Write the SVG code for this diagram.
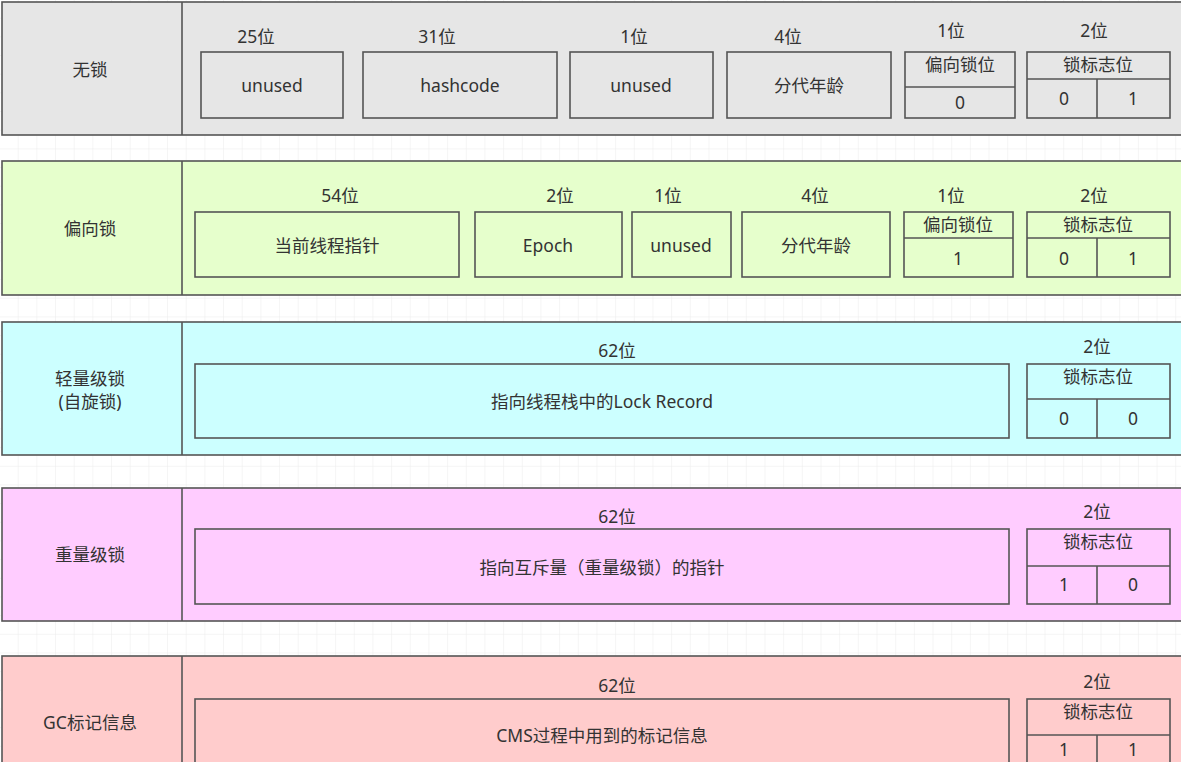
<svg xmlns="http://www.w3.org/2000/svg" width="1181" height="762" viewBox="0 0 1181 762">
<defs>
<pattern id="grid" width="18.67" height="18.67" patternUnits="userSpaceOnUse">
<path d="M18.67 0 V18.67 M0 18.67 H18.67" fill="none" stroke="#ececec" stroke-width="1"/>
</pattern>
<style>
.b{fill:none;stroke:#555;stroke-width:1.6}
.row{stroke:#555;stroke-width:1.6}
text{font-family:"Noto Sans","Noto Sans CJK SC",sans-serif;font-size:17.5px;fill:#333;text-anchor:middle;dominant-baseline:central}
</style>
</defs>
<rect width="1181" height="762" fill="#fff"/>
<rect width="1181" height="762" fill="url(#grid)"/>

<g id="row-nolock">
<rect class="row" x="2" y="2" width="1195" height="133" fill="#e6e6e6"/>
<line class="b" x1="182" y1="2" x2="182" y2="135"/>
<text x="90" y="69">无锁</text>
<text x="256" y="36">25位</text>
<text x="437" y="36">31位</text>
<text x="634" y="36">1位</text>
<text x="788" y="36">4位</text>
<text x="951" y="30">1位</text>
<text x="1094" y="30">2位</text>
<rect class="b" x="201" y="52" width="142" height="66"/>
<text x="272" y="85">unused</text>
<rect class="b" x="363" y="52" width="194" height="66"/>
<text x="460" y="85">hashcode</text>
<rect class="b" x="570" y="52" width="143" height="66"/>
<text x="641" y="85">unused</text>
<rect class="b" x="727" y="52" width="164" height="66"/>
<text x="809" y="85">分代年龄</text>
<rect class="b" x="905" y="52" width="110" height="66"/>
<line class="b" x1="905" y1="87" x2="1015" y2="87"/>
<text x="960" y="64">偏向锁位</text>
<text x="960" y="102">0</text>
<rect class="b" x="1027" y="52" width="143" height="66"/>
<line class="b" x1="1027" y1="79" x2="1170" y2="79"/>
<line class="b" x1="1097" y1="79" x2="1097" y2="118"/>
<text x="1098" y="64">锁标志位</text>
<text x="1064" y="98">0</text>
<text x="1133" y="98">1</text>
</g>

<g id="row-biased">
<rect class="row" x="2" y="161" width="1195" height="134" fill="#e6ffcc"/>
<line class="b" x1="182" y1="161" x2="182" y2="295"/>
<text x="90" y="228">偏向锁</text>
<text x="340" y="195">54位</text>
<text x="560" y="195">2位</text>
<text x="668" y="195">1位</text>
<text x="815" y="195">4位</text>
<text x="951" y="195">1位</text>
<text x="1094" y="195">2位</text>
<rect class="b" x="195" y="212" width="264" height="65"/>
<text x="327" y="245">当前线程指针</text>
<rect class="b" x="475" y="212" width="147" height="65"/>
<text x="548" y="245">Epoch</text>
<rect class="b" x="632" y="212" width="99" height="65"/>
<text x="681" y="245">unused</text>
<rect class="b" x="742" y="212" width="148" height="65"/>
<text x="816" y="245">分代年龄</text>
<rect class="b" x="904" y="212" width="109" height="65"/>
<line class="b" x1="904" y1="238" x2="1013" y2="238"/>
<text x="958" y="224">偏向锁位</text>
<text x="958" y="258">1</text>
<rect class="b" x="1027" y="212" width="143" height="65"/>
<line class="b" x1="1027" y1="238" x2="1170" y2="238"/>
<line class="b" x1="1097" y1="238" x2="1097" y2="277"/>
<text x="1098" y="224">锁标志位</text>
<text x="1064" y="258">0</text>
<text x="1133" y="258">1</text>
</g>

<g id="row-lightweight">
<rect class="row" x="2" y="322" width="1195" height="133" fill="#ccffff"/>
<line class="b" x1="182" y1="322" x2="182" y2="455"/>
<text x="90" y="378">轻量级锁</text>
<text x="90" y="401">(自旋锁)</text>
<text x="617" y="350">62位</text>
<text x="1097" y="346">2位</text>
<rect class="b" x="195" y="364" width="814" height="74"/>
<text x="602" y="401">指向线程栈中的Lock Record</text>
<rect class="b" x="1027" y="364" width="143" height="74"/>
<line class="b" x1="1027" y1="399" x2="1170" y2="399"/>
<line class="b" x1="1097" y1="399" x2="1097" y2="438"/>
<text x="1098" y="376">锁标志位</text>
<text x="1064" y="418">0</text>
<text x="1133" y="418">0</text>
</g>

<g id="row-heavyweight">
<rect class="row" x="2" y="488" width="1195" height="133" fill="#ffccff"/>
<line class="b" x1="182" y1="488" x2="182" y2="621"/>
<text x="90" y="554">重量级锁</text>
<text x="617" y="516">62位</text>
<text x="1097" y="511">2位</text>
<rect class="b" x="195" y="529" width="814" height="75"/>
<text x="602" y="567">指向互斥量（重量级锁）的指针</text>
<rect class="b" x="1027" y="529" width="143" height="75"/>
<line class="b" x1="1027" y1="566" x2="1170" y2="566"/>
<line class="b" x1="1097" y1="566" x2="1097" y2="604"/>
<text x="1098" y="541">锁标志位</text>
<text x="1064" y="584">1</text>
<text x="1133" y="584">0</text>
</g>

<g id="row-gc">
<rect class="row" x="2" y="656" width="1195" height="140" fill="#ffcccc"/>
<line class="b" x1="182" y1="656" x2="182" y2="796"/>
<text x="90" y="722">GC标记信息</text>
<text x="617" y="685">62位</text>
<text x="1097" y="681">2位</text>
<rect class="b" x="195" y="699" width="814" height="75"/>
<text x="602" y="735">CMS过程中用到的标记信息</text>
<rect class="b" x="1027" y="699" width="143" height="75"/>
<line class="b" x1="1027" y1="735" x2="1170" y2="735"/>
<line class="b" x1="1097" y1="735" x2="1097" y2="774"/>
<text x="1098" y="711">锁标志位</text>
<text x="1064" y="749">1</text>
<text x="1133" y="749">1</text>
</g>
</svg>
